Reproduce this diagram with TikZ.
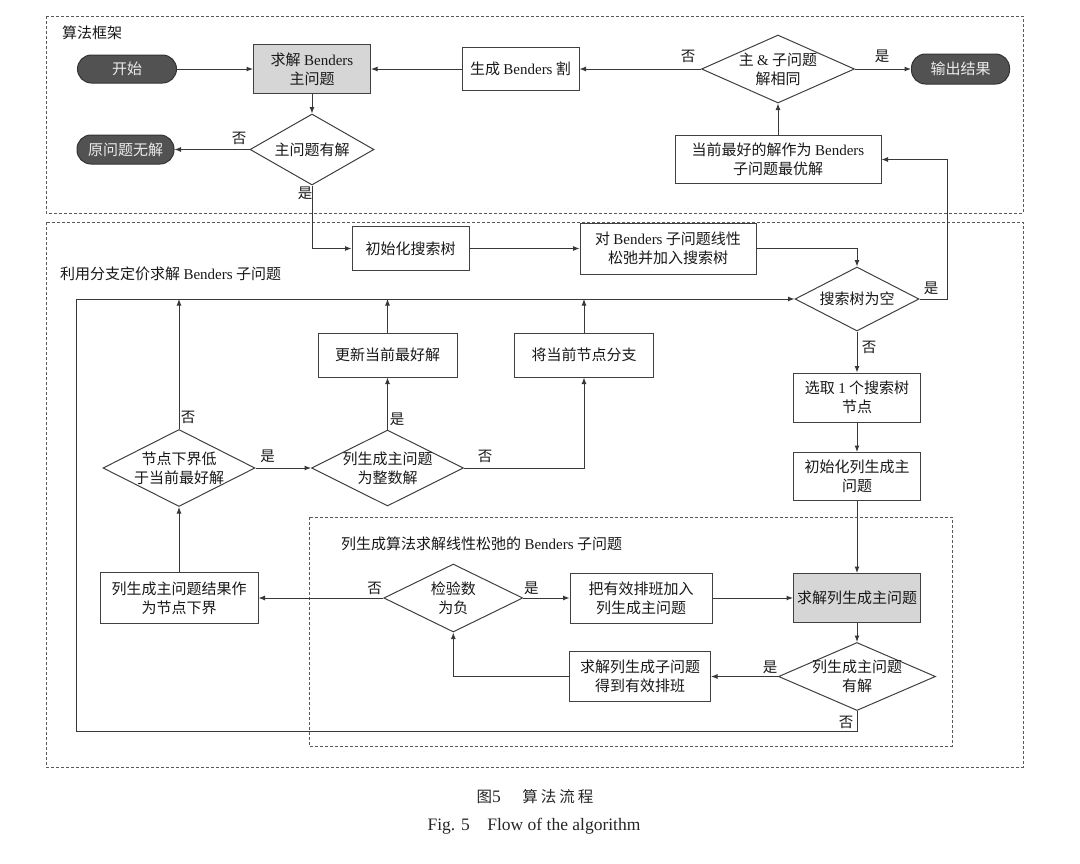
\documentclass[tikz,border=0pt]{standalone}
\usepackage{fontspec}
\setmainfont{Liberation Serif}
\newfontfamily\cjk{Noto Sans CJK SC}
\usetikzlibrary{shapes.geometric,arrows.meta}
\newcommand\Bd{{\rmfamily Benders}}
\tikzset{
 base/.style={font=\cjk\fontsize{15}{19}\selectfont, inner sep=0pt, align=center, text=black!90},
 box/.style={base, rectangle, draw=black!75, line width=1pt, fill=white},
 gbox/.style={box, fill=black!16},
 term/.style={base, rectangle, draw=black!80, fill=black!68, text=black!8, rounded corners=14pt, line width=1pt},
 dia/.style={diamond, draw=black!75, line width=1pt, inner sep=0pt, fill=white},
 txt/.style={base},
 lab/.style={font=\cjk\fontsize{14.5}{16}\selectfont, inner sep=0pt, text=black!90},
 arr/.style={draw=black!78, line width=1pt, -{Latex[length=6.5pt,width=5pt]}},
 ln/.style={draw=black!78, line width=1pt},
 frame/.style={draw=black!65, line width=0.9pt, dash pattern=on 3pt off 2pt},
}
\begin{document}
\begin{tikzpicture}[x=1pt,y=-1pt]
\useasboundingbox[fill=white] (0,0) rectangle (1080,863);
% frames
\draw[frame] (46,16) rectangle (1023,213);
\draw[frame] (46,222) rectangle (1023,767);
\draw[frame] (309,517) rectangle (952,746);
\node[lab, anchor=west, font=\cjk\fontsize{15}{16}\selectfont] (f1) at (62,33) {算法框架};
\node[lab, anchor=west, font=\cjk\fontsize{15}{16}\selectfont] (f2) at (60,274) {利用分支定价求解 \Bd{} 子问题};
\node[lab, anchor=west, font=\cjk\fontsize{15}{16}\selectfont] (f3) at (341,544) {列生成算法求解线性松弛的 \Bd{} 子问题};
% row 1
\node[term, minimum width=99, minimum height=28] (start) at (127,69) {开始};
\node[gbox, minimum width=117, minimum height=49] (bm) at (312,69) {求解 \Bd\\主问题};
\node[box, minimum width=117, minimum height=43] (cut) at (520.5,69) {生成 \Bd{} 割};
\node[dia, minimum width=153, minimum height=68] (dsame) at (778,69) {};
\node[txt] at (dsame) {主 {\rmfamily\&} 子问题\\解相同};
\node[term, minimum width=98, minimum height=30] (out) at (960.5,69) {输出结果};
\node[dia, minimum width=124, minimum height=71] (dhas) at (312,149.5) {};
\node[txt] at (dhas) {主问题有解};
\node[term, minimum width=97, minimum height=29] (nosol) at (125.5,149.5) {原问题无解};
\node[box, minimum width=206, minimum height=48] (best) at (778,159.5) {当前最好的解作为 \Bd\\子问题最优解};
% lower
\node[box, minimum width=117, minimum height=44] (init) at (410.5,248.5) {初始化搜索树};
\node[box, minimum width=176, minimum height=51] (relax) at (668,248.5) {对 \Bd{} 子问题线性\\松弛并加入搜索树};
\node[dia, minimum width=124, minimum height=64] (dempty) at (857,299) {};
\node[txt] at (dempty) {搜索树为空};
\node[box, minimum width=127, minimum height=49] (sel) at (857,397.5) {选取 {\rmfamily 1} 个搜索树\\节点};
\node[box, minimum width=127, minimum height=48] (initcg) at (857,476.5) {初始化列生成主\\问题};
\node[box, minimum width=139, minimum height=44] (upd) at (387.5,355) {更新当前最好解};
\node[box, minimum width=139, minimum height=44] (br) at (584,355) {将当前节点分支};
\node[dia, minimum width=152, minimum height=77] (dlow) at (179,468) {};
\node[txt] at (dlow) {节点下界低\\于当前最好解};
\node[dia, minimum width=152, minimum height=76] (dint) at (387.5,468) {};
\node[txt] at (dint) {列生成主问题\\为整数解};
\node[box, minimum width=158, minimum height=51] (lb) at (179,598) {列生成主问题结果作\\为节点下界};
\node[dia, minimum width=139, minimum height=68] (dneg) at (453.3,598) {};
\node[txt] at (dneg) {检验数\\为负};
\node[box, minimum width=142, minimum height=50] (addc) at (641,598) {把有效排班加入\\列生成主问题};
\node[gbox, minimum width=127, minimum height=49] (gray) at (857,598) {求解列生成主问题};
\node[dia, minimum width=157, minimum height=68] (dcg) at (857,676.5) {};
\node[txt] at (dcg) {列生成主问题\\有解};
\node[box, minimum width=141, minimum height=50] (subp) at (640,676.5) {求解列生成子问题\\得到有效排班};
% coordinates
\coordinate (c1) at (947,299);
\coordinate (L1) at (857,731);
\coordinate (L2) at (76,731);
\coordinate (L3) at (76,299);
% connectors
\draw[arr] (start) -- (bm);
\draw[arr] (cut) -- (bm);
\draw[arr] (dsame.west) -- (cut.east);
\draw[arr] (dsame.east) -- (out.west);
\draw[arr] (best) -- (dsame.south);
\draw[arr] (bm) -- (dhas.north);
\draw[arr] (dhas.west) -- (nosol.east);
\draw[arr] (dhas.south) |- (init.west);
\draw[arr] (init) -- (relax);
\draw[arr] (relax.east) -| (dempty.north);
\draw[arr] (dempty.east) -- (c1) |- (best.east);
\draw[arr] (dempty.south) -- (sel.north);
\draw[arr] (sel) -- (initcg);
\draw[arr] (initcg) -- (gray);
\draw[arr] (gray) -- (dcg.north);
\draw[arr] (dcg.west) -- (subp.east);
\draw[arr] (subp.west) -| (dneg.south);
\draw[arr] (dneg.east) -- (addc.west);
\draw[arr] (addc) -- (gray);
\draw[arr] (dneg.west) -- (lb.east);
\draw[arr] (lb) -- (dlow.south);
\draw[arr] (dlow.east) -- (dint.west);
\draw[arr] (dint.north) -- (upd.south);
\draw[arr] (dint.east) -| (br.south);
\draw[arr] (upd.north) -- (upd.north |- L3);
\draw[arr] (br.north) -- (br.north |- L3);
\draw[arr] (dlow.north) -- (dlow.north |- L3);
\draw[arr] (dcg.south) -- (L1) -- (L2) -- (L3) -- (dempty.west);
% labels
\node[lab] (l1) at (239,138) {否};
\node[lab] (l2) at (305,193) {是};
\node[lab] (l3) at (688,56) {否};
\node[lab] (l4) at (882,56) {是};
\node[lab] (l5) at (931,288) {是};
\node[lab] (l6) at (869,347) {否};
\node[lab] (l7) at (188,417) {否};
\node[lab] (l8) at (397,419) {是};
\node[lab] (l9) at (267.6,456.7) {是};
\node[lab] (l10) at (485,456.7) {否};
\node[lab] (l11) at (374.5,588) {否};
\node[lab] (l12) at (531.4,588) {是};
\node[lab] (l13) at (770,667) {是};
\node[lab] (l14) at (846,722) {否};
% caption
\node[inner sep=0pt, font=\cjk\fontsize{15.5}{18}\selectfont, text=black!85] (cap1) at (535,797) {图{\rmfamily\fontsize{17.5}{18}\selectfont 5}\hspace{1.4em}算\hspace{3pt}法\hspace{3pt}流\hspace{3pt}程};
\node[inner sep=0pt, font=\rmfamily\fontsize{17.5}{18}\selectfont, text=black!85] (cap2) at (534,826) {Fig. 5\hspace{1em}Flow of the algorithm};
\end{tikzpicture}
\end{document}
